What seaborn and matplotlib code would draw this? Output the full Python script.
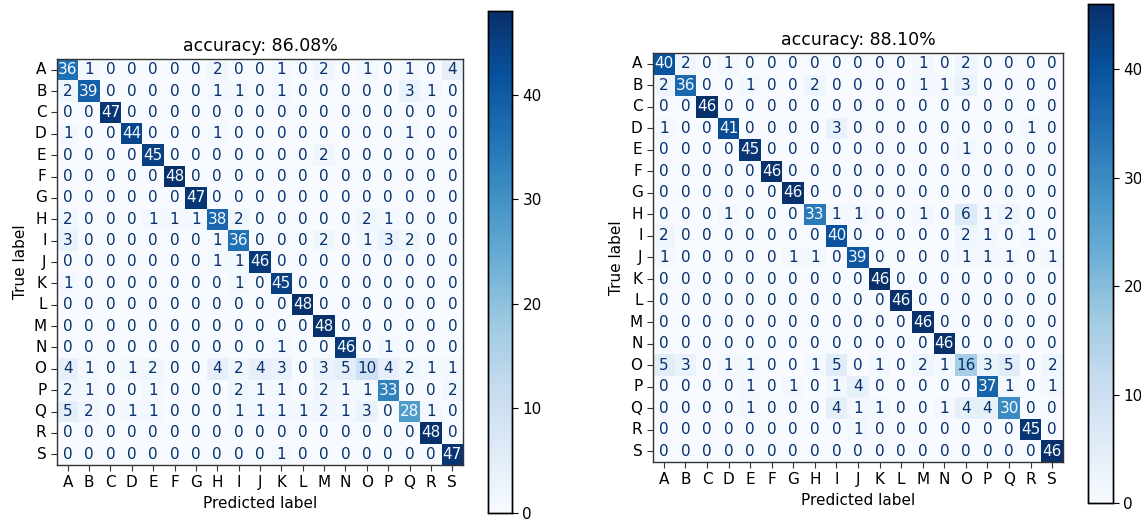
import numpy as np
import pandas as pd
import matplotlib
matplotlib.use("Agg")
import matplotlib.pyplot as plt
import seaborn as sns

labels = list("ABCDEFGHIJKLMNOPQRS")

left_title = "accuracy: 86.08%"
right_title = "accuracy: 88.10%"

left_cm = [
    [36, 1, 0, 0, 0, 0, 0, 2, 0, 0, 1, 0, 2, 0, 1, 0, 1, 0, 4],
    [2, 39, 0, 0, 0, 0, 0, 1, 1, 0, 1, 0, 0, 0, 0, 0, 3, 1, 0],
    [0, 0, 47, 0, 0, 0, 0, 0, 0, 0, 0, 0, 0, 0, 0, 0, 0, 0, 0],
    [1, 0, 0, 44, 0, 0, 0, 1, 0, 0, 0, 0, 0, 0, 0, 0, 1, 0, 0],
    [0, 0, 0, 0, 45, 0, 0, 0, 0, 0, 0, 0, 2, 0, 0, 0, 0, 0, 0],
    [0, 0, 0, 0, 0, 48, 0, 0, 0, 0, 0, 0, 0, 0, 0, 0, 0, 0, 0],
    [0, 0, 0, 0, 0, 0, 47, 0, 0, 0, 0, 0, 0, 0, 0, 0, 0, 0, 0],
    [2, 0, 0, 0, 1, 1, 1, 38, 2, 0, 0, 0, 0, 0, 2, 1, 0, 0, 0],
    [3, 0, 0, 0, 0, 0, 0, 1, 36, 0, 0, 0, 2, 0, 1, 3, 2, 0, 0],
    [0, 0, 0, 0, 0, 0, 0, 1, 1, 46, 0, 0, 0, 0, 0, 0, 0, 0, 0],
    [1, 0, 0, 0, 0, 0, 0, 0, 1, 0, 45, 0, 0, 0, 0, 0, 0, 0, 0],
    [0, 0, 0, 0, 0, 0, 0, 0, 0, 0, 0, 48, 0, 0, 0, 0, 0, 0, 0],
    [0, 0, 0, 0, 0, 0, 0, 0, 0, 0, 0, 0, 48, 0, 0, 0, 0, 0, 0],
    [0, 0, 0, 0, 0, 0, 0, 0, 0, 0, 1, 0, 0, 46, 0, 1, 0, 0, 0],
    [4, 1, 0, 1, 2, 0, 0, 4, 2, 4, 3, 0, 3, 5, 10, 4, 2, 1, 1],
    [2, 1, 0, 0, 1, 0, 0, 0, 2, 1, 1, 0, 2, 1, 1, 33, 0, 0, 2],
    [5, 2, 0, 1, 1, 0, 0, 0, 1, 1, 1, 1, 2, 1, 3, 0, 28, 1, 0],
    [0, 0, 0, 0, 0, 0, 0, 0, 0, 0, 0, 0, 0, 0, 0, 0, 0, 48, 0],
    [0, 0, 0, 0, 0, 0, 0, 0, 0, 0, 1, 0, 0, 0, 0, 0, 0, 0, 47],
]

right_cm = [
    [40, 2, 0, 1, 0, 0, 0, 0, 0, 0, 0, 0, 1, 0, 2, 0, 0, 0, 0],
    [2, 36, 0, 0, 1, 0, 0, 2, 0, 0, 0, 0, 1, 1, 3, 0, 0, 0, 0],
    [0, 0, 46, 0, 0, 0, 0, 0, 0, 0, 0, 0, 0, 0, 0, 0, 0, 0, 0],
    [1, 0, 0, 41, 0, 0, 0, 0, 3, 0, 0, 0, 0, 0, 0, 0, 0, 1, 0],
    [0, 0, 0, 0, 45, 0, 0, 0, 0, 0, 0, 0, 0, 0, 1, 0, 0, 0, 0],
    [0, 0, 0, 0, 0, 46, 0, 0, 0, 0, 0, 0, 0, 0, 0, 0, 0, 0, 0],
    [0, 0, 0, 0, 0, 0, 46, 0, 0, 0, 0, 0, 0, 0, 0, 0, 0, 0, 0],
    [0, 0, 0, 1, 0, 0, 0, 33, 1, 1, 0, 0, 1, 0, 6, 1, 2, 0, 0],
    [2, 0, 0, 0, 0, 0, 0, 0, 40, 0, 0, 0, 0, 0, 2, 1, 0, 1, 0],
    [1, 0, 0, 0, 0, 0, 1, 1, 0, 39, 0, 0, 0, 0, 1, 1, 1, 0, 1],
    [0, 0, 0, 0, 0, 0, 0, 0, 0, 0, 46, 0, 0, 0, 0, 0, 0, 0, 0],
    [0, 0, 0, 0, 0, 0, 0, 0, 0, 0, 0, 46, 0, 0, 0, 0, 0, 0, 0],
    [0, 0, 0, 0, 0, 0, 0, 0, 0, 0, 0, 0, 46, 0, 0, 0, 0, 0, 0],
    [0, 0, 0, 0, 0, 0, 0, 0, 0, 0, 0, 0, 0, 46, 0, 0, 0, 0, 0],
    [5, 3, 0, 1, 1, 0, 0, 1, 5, 0, 1, 0, 2, 1, 16, 3, 5, 0, 2],
    [0, 0, 0, 0, 1, 0, 1, 0, 1, 4, 0, 0, 0, 0, 0, 37, 1, 0, 1],
    [0, 0, 0, 0, 1, 0, 0, 0, 4, 1, 1, 0, 0, 1, 4, 4, 30, 0, 0],
    [0, 0, 0, 0, 0, 0, 0, 0, 0, 1, 0, 0, 0, 0, 0, 0, 0, 45, 0],
    [0, 0, 0, 0, 0, 0, 0, 0, 0, 0, 0, 0, 0, 0, 0, 0, 0, 0, 46],
]

plt.rcParams['font.family'] = ['DejaVu Sans']
cmap = plt.get_cmap("Blues")

fig = plt.figure(figsize=(11.41, 5.21), dpi=100)
W, H = 1141, 521


def px(x0, y0, x1, y1):
    return [x0 / W, 1 - y1 / H, (x1 - x0) / W, (y1 - y0) / H]


def draw(cm, title, ax_box, cb_box):
    ax = fig.add_axes(px(*ax_box))
    cax = fig.add_axes(px(*cb_box))
    df = pd.DataFrame(np.array(cm), index=labels, columns=labels)
    vmax = df.values.max()
    sns.heatmap(df, ax=ax, cbar_ax=cax, cmap="Blues", vmin=0, vmax=vmax,
                annot=True, fmt="d", square=False,
                annot_kws={"fontsize": 11})
    thresh = vmax / 2.0
    vals = df.values.ravel()
    for t, v in zip(ax.texts, vals):
        t.set_color(cmap(0.0) if v > thresh else cmap(1.0))
    for s in ax.spines.values():
        s.set_visible(True)
        s.set_linewidth(1.0)
        s.set_color("#333333")
    ax.tick_params(axis="both", length=4, labelsize=11, color="#333333")
    ax.set_yticklabels(labels, rotation=0)
    ax.set_xticklabels(labels, rotation=0)
    ax.set_title(title, fontsize=12.5)
    ax.set_xlabel("Predicted label", fontsize=11)
    ax.set_ylabel("True label", fontsize=11)
    cax.set_yticks([0, 10, 20, 30, 40])
    cax.tick_params(labelsize=11, length=4)
    cax.set_frame_on(True)
    for s in cax.spines.values():
        s.set_visible(True)
        s.set_linewidth(1.0)
    return ax


draw(left_cm, left_title, (57, 59, 463, 465), (488, 11, 512, 513))
draw(right_cm, right_title, (653, 53, 1063, 462), (1088, 4, 1113, 503))

fig.savefig("out.png", dpi=100)
